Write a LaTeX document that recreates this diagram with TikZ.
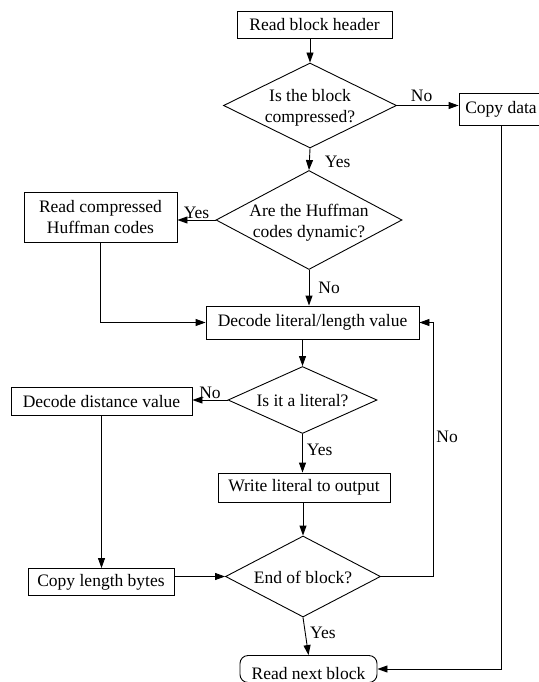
\documentclass[tikz,border=0pt]{standalone}
\usepackage{fontspec}
\setmainfont{Liberation Serif}
\usetikzlibrary{arrows.meta, shapes.geometric, calc}

\newcommand{\flatq}[1]{\raisebox{-7pt}[0pt][0pt]{\makebox[0pt]{\begin{tabular}{@{}c@{}}#1\end{tabular}}}}

\tikzset{
    every node/.style={font=\fontsize{17.5}{21}\selectfont},
    stepbox/.style={draw, rectangle, inner sep=0pt, align=center},
    ask/.style={draw, diamond, inner sep=0pt},
    arr/.style={-{Triangle[length=10pt,width=7pt]}},
    lbl/.style={inner sep=3pt}
}

\begin{document}
\begin{tikzpicture}[x=1pt, y=-1pt, line width=0.9pt]
        \useasboundingbox (0,0) rectangle (538,682);

        \node[stepbox, minimum width=155, minimum height=26.5] (hdr) at (314.5,25) {Read block header};
        \node[ask, minimum width=173, minimum height=85] (cmp) at (310,105.5) {\flatq{Is the block\\compressed?}};
        \node[stepbox, minimum width=84, minimum height=32] (copy) at (501,109) {Copy data};
        \node[ask, minimum width=186, minimum height=99] (huff) at (309,220) {\flatq{Are the Huffman\\codes dynamic?}};
        \node[stepbox, minimum width=153, minimum height=50] (rdc) at (100.5,217) {Read compressed\\Huffman codes};
        \node[stepbox, minimum width=213, minimum height=33] (dec) at (312.5,322.5) {Decode literal/length value};
        \node[ask, minimum width=149, minimum height=67] (lit) at (302.5,400) {\flatq{Is it a literal?}};
        \node[stepbox, minimum width=181, minimum height=28] (dist) at (101.5,401.5) {Decode distance value};
        \node[stepbox, minimum width=172, minimum height=29] (wrt) at (304,487.5) {Write literal to output};
        \node[ask, minimum width=155, minimum height=81] (eob) at (303,576.5) {\flatq{End of block?}};
        \node[stepbox, minimum width=146, minimum height=27] (cpl) at (101,582) {Copy length bytes};
        \node[stepbox, rounded corners=8pt, minimum width=137, minimum height=27,
              text height=20pt, text depth=0pt] (nxt) at (308.5,669) {Read next block};

        \coordinate (loopx) at (433,0);

        \draw[arr] (hdr.south -| cmp.north) -- (cmp.north);
        \draw[arr] (cmp.east) -- node[above, lbl, pos=0.4] {No} (cmp.east -| copy.west);
        \draw[arr] (cmp.south) -- node[right, inner sep=15pt, yshift=-3pt] {Yes} (huff.north);
        \draw[arr] (huff.west) -- node[above, inner sep=1pt] {Yes} (huff.west -| rdc.east);
        \draw[arr] (huff.south) -- node[right, inner sep=9pt] {No} (huff.south |- dec.north);
        \draw[arr] (rdc.south) |- (dec.west);
        \draw[arr] (lit.north |- dec.south) -- (lit.north);
        \draw[arr] (lit.west) -- node[above, inner sep=1pt] {No} (lit.west -| dist.east);
        \draw[arr] (lit.south) -- node[right, inner sep=4pt, yshift=3pt] {Yes} (lit.south |- wrt.north);
        \draw[arr] (eob.north |- wrt.south) -- (eob.north);
        \draw[arr] (dist.south) -- (dist.south |- cpl.north);
        \draw[arr] (eob.west -| cpl.east) -- (eob.west);
        \draw[arr] (eob.east) -- (eob.east -| loopx) -- node[right, lbl, pos=0.55] {No} (loopx |- dec.east) -- (dec.east);
        \draw[arr] (eob.south) -- node[right, inner sep=4pt, yshift=3pt] {Yes} (nxt.north);
        \draw[arr] (copy.south) |- (nxt.east);
    \end{tikzpicture}
\end{document}
